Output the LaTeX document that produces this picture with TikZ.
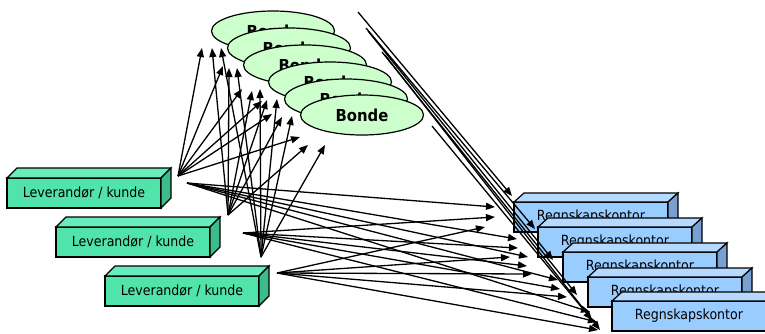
\documentclass[tikz,border=0pt]{standalone}
\usepackage{fontspec}
\setmainfont{DejaVu Sans Condensed}
\usepackage{xcolor}
\usetikzlibrary{arrows.meta,shapes.geometric}

\definecolor{levfront}{RGB}{80,227,170}
\definecolor{levtop}{RGB}{104,236,188}
\definecolor{levside}{RGB}{62,187,138}
\definecolor{regnfront}{RGB}{153,204,255}
\definecolor{regntop}{RGB}{182,218,255}
\definecolor{regnside}{RGB}{122,160,210}
\definecolor{bondefill}{RGB}{204,255,204}

\tikzset{
    flow/.style={-{Triangle[length=9pt,width=7pt]}, line width=1.3pt},
    face/.style={draw, line width=1.2pt},
    levbox/.style={face, fill=levfront, outer sep=0pt, anchor=north west,
        minimum width=154pt, minimum height=30pt, font=\fontsize{14}{16}\selectfont},
    regnbox/.style={face, fill=regnfront, outer sep=0pt, anchor=north west,
        minimum width=154pt, minimum height=30pt, font=\fontsize{14}{16}\selectfont},
    bonde/.style={face, ellipse, fill=bondefill, inner sep=0pt,
        minimum width=123pt, minimum height=40pt, font=\bfseries\fontsize{16.5}{18}\selectfont}
}

\begin{document}
\begin{tikzpicture}[x=1pt, y=-1pt]
    \useasboundingbox (0,0) rectangle (765,333);

    % Bonde
    \foreach \i/\x/\y in {1/273/31, 2/289/48, 3/305/65, 4/330/82, 5/346/99, 6/362/115}
        \node [bonde] (bonde\i) at (\x,\y) {Bonde};

    % Leverandoer / kunde boxes
    \foreach \i/\x/\y in {1/7/178, 2/56/227, 3/105/276} {
        \node [levbox] (lev\i) at (\x,\y) {Leverandør / kunde};
        \draw [face, fill=levtop] (lev\i.north west) -- ++(10,-10) -- ++(154,0) -- (lev\i.north east) -- cycle;
        \draw [face, fill=levside] (lev\i.north east) -- ++(10,-10) -- ++(0,30) -- (lev\i.south east) -- cycle;
    }

    % Regnskapskontor boxes
    \foreach \i/\x/\y in {1/514/202, 2/538/227, 3/563/252, 4/588/277, 5/612/301} {
        \node [regnbox] (regn\i) at (\x,\y) {Regnskapskontor};
        \draw [face, fill=regntop] (regn\i.north west) -- ++(10,-9) -- ++(154,0) -- (regn\i.north east) -- cycle;
        \draw [face, fill=regnside] (regn\i.north east) -- ++(10,-9) -- ++(0,30) -- (regn\i.south east) -- cycle;
    }

    % Leverandoer -> Bonde
    \coordinate (opp1) at (178,176);
    \coordinate (opp2) at (228,215);
    \coordinate (opp3) at (261,257);
    \foreach \e/\xa/\ya/\xb/\yb/\xc/\yc in {1/202/48/212/48/221/48, 2/223/66/229/68/237/68,
        3/242/89/252/91/260/89, 4/262/101/267/100/277/99, 5/272/114/282/117/292/116,
        6/300/137/308/145/325/145} {
        \coordinate (tilb\e a) at (\xa,\ya);
        \coordinate (tilb\e b) at (\xb,\yb);
        \coordinate (tilb\e c) at (\xc,\yc);
        \draw [flow] (opp1) -- (tilb\e a);
        \draw [flow] (opp2) -- (tilb\e b);
        \draw [flow] (opp3) -- (tilb\e c);
    }

    % Leverandoer -> Regnskapskontor
    \coordinate (ut1) at (187,183);
    \coordinate (ut2) at (243,233);
    \coordinate (ut3) at (277,273);
    \foreach \r/\xa/\ya/\xb/\yb/\xc/\yc in {1/495/207/495/217/485/227, 2/517/239/518/248/510/257,
        3/528/257/527/266/532/274, 4/558/280/560/289/567/297, 5/590/312/597/322/598/330} {
        \coordinate (tilr\r a) at (\xa,\ya);
        \coordinate (tilr\r b) at (\xb,\yb);
        \coordinate (tilr\r c) at (\xc,\yc);
        \draw [flow] (ut1) -- (tilr\r a);
        \draw [flow] (ut2) -- (tilr\r b);
        \draw [flow] (ut3) -- (tilr\r c);
    }

    % Bonde -> Regnskapskontor
    \foreach \n/\xs/\ys/\xe/\ye in {1/358/12/512/196, 2/366/28/535/229, 3/368/31/553/260,
        4/382/52/577/295, 5/385/55/600/330, 6/432/126/592/320} {
        \coordinate (fra\n) at (\xs,\ys);
        \coordinate (inn\n) at (\xe,\ye);
        \draw [flow] (fra\n) -- (inn\n);
    }

\end{tikzpicture}
\end{document}
